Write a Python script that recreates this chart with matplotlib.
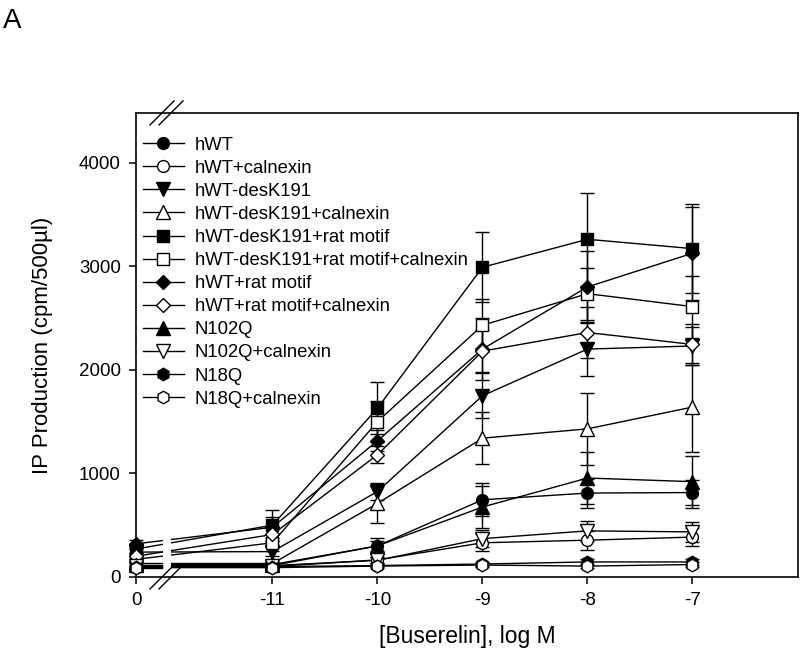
import matplotlib.pyplot as plt
from matplotlib.lines import Line2D
import numpy as np

plt.rcParams['font.family'] = ['Liberation Sans', 'DejaVu Sans']

# x categories: control (0) then log M of buserelin
conc_labels = ['0', '-11', '-10', '-9', '-8', '-7']
log_conc = [-11, -10, -9, -8, -7]

series = ['hWT', 'hWT+calnexin', 'hWT-desK191', 'hWT-desK191+calnexin',
          'hWT-desK191+rat motif', 'hWT-desK191+rat motif+calnexin',
          'hWT+rat motif', 'hWT+rat motif+calnexin',
          'N102Q', 'N102Q+calnexin', 'N18Q', 'N18Q+calnexin']

# mean IP production (cpm/500ul), columns = conc_labels
means = [
    [110, 110, 300, 745, 810, 815],
    [95, 100, 165, 330, 355, 385],
    [240, 245, 825, 1750, 2200, 2230],
    [130, 130, 710, 1340, 1430, 1640],
    [270, 500, 1630, 2990, 3260, 3170],
    [170, 330, 1500, 2430, 2735, 2610],
    [320, 480, 1315, 2200, 2800, 3125],
    [200, 410, 1180, 2180, 2360, 2245],
    [120, 120, 300, 675, 955, 920],
    [110, 110, 160, 370, 445, 435],
    [100, 100, 110, 125, 145, 145],
    [90, 90, 105, 115, 105, 120],
]
# SEM
errs = [
    [30, 30, 80, 160, 140, 120],
    [20, 30, 30, 80, 90, 90],
    [30, 40, 80, 220, 260, 180],
    [20, 30, 190, 250, 350, 430],
    [40, 150, 250, 340, 450, 430],
    [30, 80, 200, 250, 250, 300],
    [40, 100, 100, 300, 350, 450],
    [30, 60, 80, 200, 250, 200],
    [20, 20, 50, 200, 250, 250],
    [20, 20, 30, 80, 100, 100],
    [10, 10, 15, 20, 25, 25],
    [10, 10, 15, 20, 20, 20],
]

# marker style per series: (marker, filled, size)
styles = [('o', True, 8.5), ('o', False, 8.5), ('v', True, 9.5), ('^', False, 9.5),
          ('s', True, 8), ('s', False, 8), ('D', True, 7.5), ('D', False, 7.5),
          ('^', True, 9.5), ('v', False, 9.5), ('h', True, 9), ('h', False, 9)]

ctrl_pos = -12.3          # where the "0" control sits (on the y axis)
gap = (-12.05, -11.96)    # axis break

fig = plt.figure(figsize=(8, 6.49), dpi=100)
ax = fig.add_axes([0.17, 0.111, 0.8275, 0.715])

xs = np.array([ctrl_pos] + log_conc, dtype=float)
handles = []
for name, m, e, (mk, filled, ms) in zip(series, means, errs, styles):
    m = np.array(m, dtype=float)
    fc = 'black' if filled else 'white'
    y_lo = np.interp(gap[0], xs, m)
    y_hi = np.interp(gap[1], xs, m)
    ax.plot([xs[0], gap[0]], [m[0], y_lo], color='black', lw=1.0, zorder=2)
    ax.plot(np.r_[gap[1], xs[1:]], np.r_[y_hi, m[1:]], color='black', lw=1.0, zorder=2)
    ax.errorbar(xs, m, yerr=e, fmt='none', ecolor='black', elinewidth=1.0,
                capsize=5, capthick=1.0, zorder=2, clip_on=False)
    ax.plot(xs, m, ls='none', marker=mk, ms=ms, mfc=fc, mec='black', mew=1.0,
            zorder=3, clip_on=False)
    handles.append(Line2D([], [], color='black', lw=1.0, marker=mk, ms=ms,
                          mfc=fc, mec='black', mew=1.0))

ax.set_xlim(ctrl_pos, -5.995)
ax.set_ylim(0, 4480)
ax.set_xticks(xs)
ax.set_xticklabels(conc_labels)
ax.set_yticks([0, 1000, 2000, 3000, 4000])
ax.tick_params(direction='out', length=5, width=1.1, labelsize=13.5, pad=6)
for sp in ax.spines.values():
    sp.set_linewidth(1.2)

ax.set_ylabel('IP Production (cpm/500µl)', fontsize=16)
ax.yaxis.set_label_coords(-0.125, 0.5)
ax.set_xlabel('[Buserelin], log M', fontsize=16.5)
ax.xaxis.set_label_coords(0.5, -0.104)

# break marks on top and bottom spines
for xc in (0.0393, 0.0529):
    for yc in (0.0, 1.0):
        ax.plot([xc - 0.0181, xc + 0.0181], [yc - 0.0259, yc + 0.0259],
                color='black', lw=1.0, transform=ax.transAxes, clip_on=False)

ax.legend(handles, series, loc='upper left', bbox_to_anchor=(0.0106, 0.949),
          frameon=False, fontsize=13.3, handlelength=2.2, handletextpad=0.6,
          labelspacing=0.33, borderpad=0, borderaxespad=0, numpoints=1)

fig.text(0.004, 0.988, 'A', fontsize=20, va='top', ha='left')

fig.savefig('out.png', dpi=100)
